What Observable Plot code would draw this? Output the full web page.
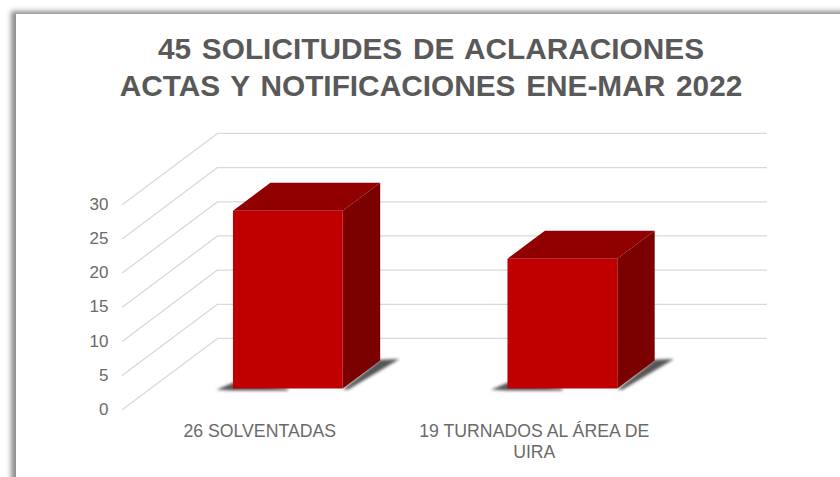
<!DOCTYPE html>
<html>
<head>
<meta charset="utf-8">
<script src="https://cdn.jsdelivr.net/npm/d3@7"></script>
<script src="https://cdn.jsdelivr.net/npm/@observablehq/plot@0.6"></script>
<style>
html,body{margin:0;padding:0;background:#fff;width:840px;height:477px;overflow:hidden}
#frame{position:absolute;left:16px;top:14px;width:900px;height:600px;background:#fff;
  box-shadow:-3px -1px 5px 2px #8f8f8f}
#title{position:absolute;left:0;top:30px;width:862px;text-align:center;font:bold 29.8px/37px "Liberation Sans",Arial,sans-serif;color:#595959;word-spacing:2.5px}
#chart{position:absolute;left:0;top:0}
</style>
</head>
<body>
<div id="frame"></div>
<div id="chart"></div>
<div id="title">45 SOLICITUDES DE ACLARACIONES<br>ACTAS Y NOTIFICACIONES ENE-MAR 2022</div>
<script>
const titleLines = ["45 SOLICITUDES DE ACLARACIONES", "ACTAS Y NOTIFICACIONES ENE-MAR 2022"];
const categories = ["26 SOLVENTADAS", "19 TURNADOS AL ÁREA DE\nUIRA"];
const values = [26, 19];
const yTicks = [0, 5, 10, 15, 20, 25, 30];

// oblique projection of the 3-D chart, in data units
const depthX = 0.346, depthY = 10.4;
const barHalf = 0.2, depthNear = 0.296, depthFar = 0.69;
const px = (u, d) => u + d * depthX;
const py = (v, d) => v + d * depthY;

const gridFloor = yTicks.flatMap(t => [0, 1].map(d => ({t, x: px(0, d), y: py(t, d)})));
const gridBack = yTicks.flatMap(t => [0, 2].map(u => ({t, x: px(u, 1), y: py(t, 1)})));

const poly = (id, pts) => pts.map(([u, v, d]) => ({id, x: px(u, d), y: py(v, d)}));
const faces = (name, corner) => categories.flatMap((c, i) => {
  const a = i + 0.5 - barHalf, b = i + 0.5 + barHalf, v = values[i];
  return poly(name + i, corner(a, b, v));
});
const front = faces("f", (a, b, v) => [[a,0,depthNear],[b,0,depthNear],[b,v,depthNear],[a,v,depthNear]]);
const top_ = faces("t", (a, b, v) => [[a,v,depthNear],[b,v,depthNear],[b,v,depthFar],[a,v,depthFar]]);
const side = faces("s", (a, b, v) => [[b,0,depthNear],[b,0,depthFar],[b,v,depthFar],[b,v,depthNear]]);
const shadow = categories.flatMap((c, i) => {
  const a = i + 0.5 - barHalf, b = i + 0.5 + barHalf;
  return [
    ...poly("r" + i, [[b,-0.15,depthNear],[b,0.1,depthFar],[b+0.07,0.2,depthFar],[b+0.02,-0.15,depthNear]]),
    ...poly("l" + i, [[a-0.06,-0.2,depthNear],[a,0.85,depthNear],[a+0.2,0,depthNear],[a+0.2,-0.3,depthNear],[a,-0.3,depthNear]])
  ];
});
const face = (data, fill) => Plot.line(data, {x:"x", y:"y", z:"id", fill, stroke:"none"});

const chart = Plot.plot({
  width: 840, height: 477,
  marginLeft: 122, marginRight: 169, marginTop: 204, marginBottom: 68,
  x: {domain: [0, 2], axis: null},
  y: {domain: [0, 30], axis: null},
  style: {background: "transparent"},
  marks: [
    Plot.line(gridFloor, {x:"x", y:"y", z:"t", stroke:"#d9d9d9", strokeWidth:1.25}),
    Plot.line(gridBack, {x:"x", y:"y", z:"t", stroke:"#d9d9d9", strokeWidth:1.25}),
    Plot.line(shadow, {x:"x", y:"y", z:"id", fill:"#555", stroke:"none", imageFilter:"blur(1.5px)"}),
    face(top_, "#900000"),
    face(side, "#7b0000"),
    face(front, "#c00000"),
    Plot.axisY(yTicks, {anchor:"left", tickSize:0, tickPadding:14, label:null,
      fontSize:17, fontFamily:"Liberation Sans", fill:"#6a6a6a", tickFormat:d => String(d)}),
    Plot.text(categories, {x:(d,i) => i + 0.5, y:() => 0, text:d => d, dy:12, lineAnchor:"top",
      fontSize:17.7, fontFamily:"Liberation Sans", fill:"#6a6a6a", lineHeight:1.2})
  ]
});
document.getElementById("chart").appendChild(chart);
</script>
</body>
</html>
